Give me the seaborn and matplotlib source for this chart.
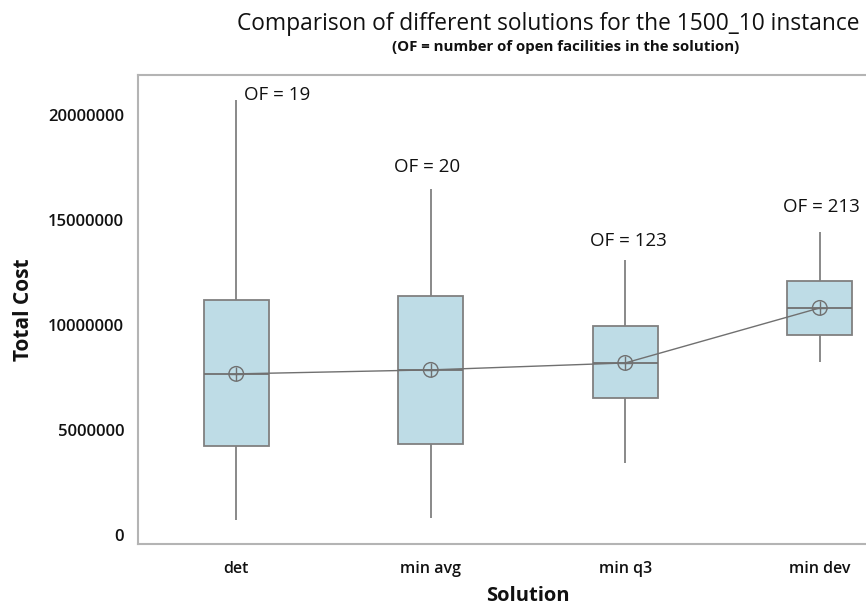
import matplotlib
matplotlib.use("Agg")
import matplotlib.pyplot as plt
import seaborn as sns
import pandas as pd

solutions = ["det", "min avg", "min q3", "min dev"]
whisker_low = [710000, 810000, 3430000, 8240000]
q1 = [4240000, 4330000, 6520000, 9520000]
median = [7670000, 7860000, 8190000, 10810000]
q3 = [11190000, 11380000, 9950000, 12100000]
whisker_high = [20710000, 16480000, 13100000, 14430000]
means = [7670000, 7860000, 8190000, 10810000]
of_labels = ["OF = 19", "OF = 20", "OF = 123", "OF = 213"]
of_label_y = [20950000, 17520000, 14000000, 15620000]
of_label_dx = [0.04, -0.19, -0.18, -0.19]

rows = []
for i, s in enumerate(solutions):
    for v in (whisker_low[i], q1[i], median[i], q3[i], whisker_high[i]):
        rows.append({"Solution": s, "Total Cost": v})
df = pd.DataFrame(rows)

sns.set_style("white")
plt.rcParams["font.family"] = ["Open Sans", "DejaVu Sans"]

fig = plt.figure(figsize=(8.66, 6.09), dpi=100)
ax = fig.add_axes([138 / 866, 65 / 609, 780 / 866, 469 / 609])

edge = "#808080"
sns.boxplot(data=df, x="Solution", y="Total Cost", order=solutions, whis=(0, 100),
            width=0.335, color="#BEDCE6", saturation=1, linecolor=edge, linewidth=1.3,
            showfliers=False, showcaps=False, ax=ax,
            medianprops=dict(color="#707070", linewidth=1.3))

xpos = list(range(len(solutions)))
ax.plot(xpos, means, color="#707070", linewidth=1.0, zorder=5)
sns.scatterplot(x=xpos, y=means, marker="o", s=110, facecolor="none",
                edgecolor="#707070", linewidth=1.0, ax=ax, zorder=6)
sns.scatterplot(x=xpos, y=means, marker="+", s=110, color="#707070",
                linewidth=1.0, ax=ax, zorder=6)

for i, t in enumerate(of_labels):
    ax.text(i + of_label_dx[i], of_label_y[i], t, fontsize=13.5, ha="left", va="center",
            color="#111111")

ax.set_xlim(-0.505, 3.505)
ax.set_ylim(-430000, 21900000)
ax.set_yticks([0, 5000000, 10000000, 15000000, 20000000])
ax.set_yticklabels(["0", "5000000", "10000000", "15000000", "20000000"])
ax.tick_params(axis="both", which="major", length=5, width=1, color="#B0B0B0",
               direction="out", pad=5)
ax.tick_params(axis="y", labelsize=12)
ax.tick_params(axis="x", labelsize=11.5, pad=7)
for lab in ax.get_xticklabels() + ax.get_yticklabels():
    lab.set_fontweight("semibold")
    lab.set_color("#111111")
for sp in ax.spines.values():
    sp.set_visible(True)
    sp.set_color("#B4B4B4")
    sp.set_linewidth(1.5)

ax.set_xlabel("Solution", fontsize=14.5, fontweight="bold", labelpad=7, color="#111111")
ax.set_ylabel("Total Cost", fontsize=15, fontweight="bold", labelpad=10, color="#111111")

fig.text(548 / 866, 1 - 24 / 609, "Comparison of different solutions for the 1500_10 instance",
         ha="center", va="center", fontsize=16.4, color="#111111")
fig.text(566 / 866, 1 - 47 / 609, "(OF = number of open facilities in the solution)",
         ha="center", va="center", fontsize=10.8, fontweight="bold", color="#111111")

fig.savefig("out.png", dpi=100)
